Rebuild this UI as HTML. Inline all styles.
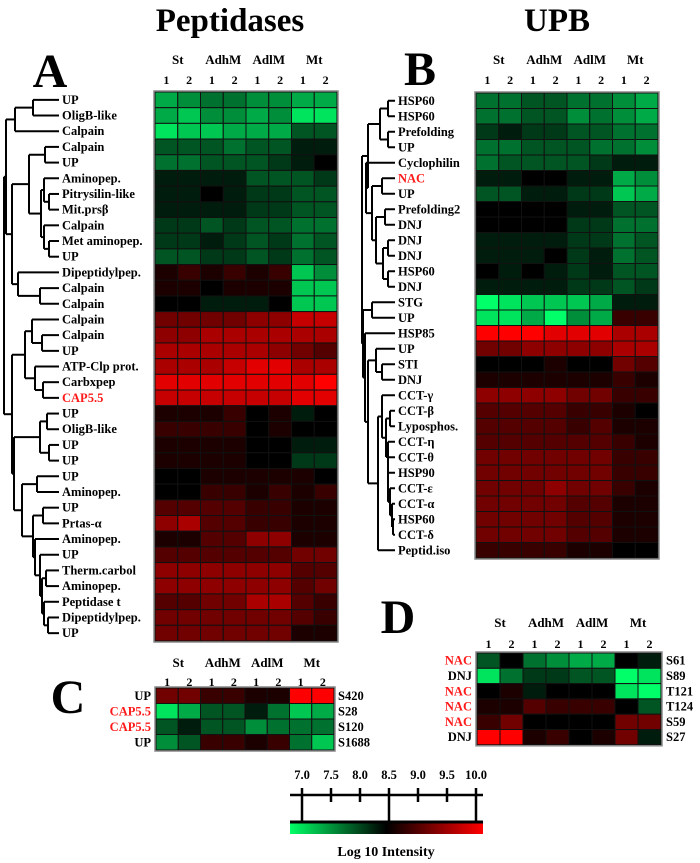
<!DOCTYPE html>
<html><head><meta charset="utf-8">
<style>
html,body{margin:0;padding:0;background:#fff;}
svg{display:block;font-family:"Liberation Serif",serif;font-weight:bold;}
</style></head>
<body>
<svg id="fig" width="700" height="863" viewBox="0 0 700 863" xmlns="http://www.w3.org/2000/svg">
<text x="230" y="31" font-size="33" text-anchor="middle">Peptidases</text>
<text x="557" y="31" font-size="33" text-anchor="middle">UPB</text>
<text x="50" y="87" font-size="48" text-anchor="middle">A</text>
<text x="420" y="85" font-size="48" text-anchor="middle">B</text>
<text x="68" y="713" font-size="48" text-anchor="middle">C</text>
<text x="398" y="633" font-size="48" text-anchor="middle">D</text>
<g id="layer"></g>
</svg>
<script>
const groups = ["St","AdhM","AdlM","Mt"];
const reps = ["1","2","1","2","1","2","1","2"];
const labelsA = ["UP","OligB-like","Calpain","Calpain","UP","Aminopep.","Pitrysilin-like","Mit.prsβ","Calpain","Met aminopep.","UP","Dipeptidylpep.","Calpain","Calpain","Calpain","Calpain","UP","ATP-Clp prot.","Carbxpep","CAP5.5","UP","OligB-like","UP","UP","UP","Aminopep.","UP","Prtas-α","Aminopep.","UP","Therm.carbol","Aminopep.","Peptidase t","Dipeptidylpep.","UP"];
const redA = [19];
const valuesA = [
[-6,-5,-4,-4,-5,-5,-6,-6],[-6,-7,-5,-5,-6,-5,-8,-8],[-8,-7,-7,-6,-6,-6,-3,-3],[-3,-3,-3,-4,-3,-3,-1,-1],[-4,-4,-3,-3,-3,-2,-1,0],
[-1,-1,-1,-1,-3,-3,-3,-2],[-1,-1,0,-1,-2,-2,-3,-3],[-1,-1,-1,-1,-2,-2,-3,-3],[-2,-2,-3,-2,-3,-3,-4,-4],[-2,-2,-1,-2,-3,-2,-4,-3],
[-3,-3,-2,-2,-3,-2,-4,-3],[1,2,1,2,1,2,-7,-5],[1,1,0,1,1,1,-7,-7],[0,0,-1,-1,-1,0,-7,-7],[4,4,4,4,5,5,7,7],
[5,5,6,6,6,6,6,6],[6,6,6,6,6,5,4,3],[6,6,6,7,8,8,6,6],[8,8,8,8,8,8,8,9],[7,7,7,7,7,7,8,8],
[1,1,1,2,0,1,-1,0],[2,2,2,2,0,1,0,0],[1,1,1,1,0,0,-1,-1],[1,1,1,1,0,0,-2,-2],[0,0,1,1,1,1,1,0],
[0,0,2,2,1,2,1,2],[3,3,3,3,2,2,1,1],[5,6,3,3,2,2,1,1],[1,1,3,3,5,5,1,1],[3,3,3,3,3,3,4,4],
[5,5,5,5,5,5,3,3],[5,5,5,5,5,5,3,4],[3,3,4,4,6,6,3,2],[4,4,4,4,4,4,3,2],[4,4,4,4,4,4,1,1]];
const labelsB = ["HSP60","HSP60","Prefolding","UP","Cyclophilin","NAC","UP","Prefolding2","DNJ","DNJ","DNJ","HSP60","DNJ","STG","UP","HSP85","UP","STI","DNJ","CCT-γ","CCT-β","Lyposphos.","CCT-η","CCT-θ","HSP90","CCT-ε","CCT-α","HSP60","CCT-δ","Peptid.iso"];
const redB = [5];
const valuesB = [
[-4,-4,-3,-3,-4,-4,-5,-6],[-4,-4,-3,-3,-5,-4,-5,-6],[-2,-1,-2,-2,-3,-3,-4,-4],[-4,-4,-3,-3,-3,-4,-4,-5],[-4,-3,-3,-3,-3,-2,-1,-1],
[-1,-1,0,0,-1,-1,-6,-5],[-3,-3,-1,-1,-2,-2,-7,-6],[0,0,0,0,-1,-1,-3,-3],[0,0,0,0,-2,-2,-4,-4],[-1,-1,-1,-1,-2,-2,-4,-3],
[-1,-1,-1,0,-2,-1,-4,-3],[0,-1,0,-1,-2,-1,-3,-3],[-1,-1,-1,-1,-2,-2,-3,-2],[-9,-8,-7,-7,-7,-6,-1,-1],[-8,-8,-6,-9,-5,-6,2,2],
[9,9,9,8,8,8,6,6],[4,4,5,5,5,5,6,6],[0,0,0,1,0,0,4,3],[1,1,1,1,1,1,2,1],[5,5,5,5,4,4,2,2],
[3,3,3,3,2,2,1,0],[3,3,3,3,2,3,1,1],[3,3,3,3,3,3,2,1],[4,4,4,4,4,4,2,2],[4,4,4,4,4,4,2,2],
[4,4,4,5,4,4,2,1],[4,4,4,4,3,3,1,1],[4,4,4,4,3,3,1,1],[4,4,4,4,3,3,1,1],[2,2,2,2,1,1,0,0]];
const labelsC = ["UP","CAP5.5","CAP5.5","UP"];
const sitesC = ["S420","S28","S120","S1688"];
const redC = [1,2];
const valuesC = [[4,4,2,2,1,1,9,9],[-8,-6,-3,-3,-1,-4,-7,-6],[-3,-1,-3,-3,-5,-4,-4,-4],[-5,-3,2,2,1,2,-4,-7]];
const labelsD = ["NAC","DNJ","NAC","NAC","NAC","DNJ"];
const sitesD = ["S61","S89","T121","T124","S59","S27"];
const redD = [0,2,3,4];
const valuesD = [[-3,0,-4,-5,-6,-6,0,-1],[-8,-4,-2,-2,-3,-3,-9,-8],[0,1,-1,0,0,0,-8,-9],[1,1,3,2,2,2,0,-3],[2,4,0,0,0,0,4,4],[9,9,1,2,0,1,4,-1]];
const scaleTicks = ["7.0","7.5","8.0","8.5","9.0","9.5","10.0"];
const scaleVals = [7.0,7.5,8.0,8.5,9.0,9.5,10.0];

const NS="http://www.w3.org/2000/svg";
const layer=document.getElementById('layer');
function mk(tag,attrs,parent){const e=document.createElementNS(NS,tag);for(const k in attrs)e.setAttribute(k,attrs[k]);(parent||layer).appendChild(e);return e;}
function color(v){const t=Math.max(-1,Math.min(1,v/9));
 if(t>=0)return `rgb(${Math.round(255*t)},0,0)`;
 const a=-t;return `rgb(0,${Math.round(255*a)},${Math.round(105*a)})`;}

function heat(name,vals,x0,x1,y0,rh){
 const cw=(x1-x0)/8;
 const g=mk('g',{});
 
 
 vals.forEach((row,i)=>row.forEach((v,j)=>{
  const r=mk('rect',{x:x0+j*cw,y:y0+i*rh,width:cw,height:rh,fill:color(v),stroke:'#111','stroke-width':1},g);
  
  
 }));
 const b=mk('rect',{x:x0-1,y:y0-1,width:x1-x0+2,height:vals.length*rh+2,fill:'none',stroke:'#888','stroke-width':1.5},g);
 
 
 return cw;
}
function header(name,x0,cw,yg,yn){
 groups.forEach((s,k)=>{const t=mk('text',{x:x0+(2*k+1)*cw,y:yg,'font-size':13,'text-anchor':'middle'});t.textContent=s;
  });
 reps.forEach((s,k)=>{const t=mk('text',{x:x0+(k+0.5)*cw,y:yn,'font-size':12,'text-anchor':'middle'});t.textContent=s;
  });
}
function rowLabels(name,labels,reds,x,y0,rh,anchor){
 labels.forEach((s,i)=>{const t=mk('text',{x:x,y:y0+(i+0.5)*rh+4,'font-size':12.5,'text-anchor':anchor,fill:reds.includes(i)?'#ff1a1a':'#000'});t.textContent=s;
  });
}
function tree(name,node,leafX,y0,rh){
 const g=mk('g',{fill:'none',stroke:'#000','stroke-width':2});
 
 
 function rec(n){
  if(typeof n==='number')return {x:leafX,y:y0+(n+0.5)*rh};
  const x=n[0];const ch=n.slice(1).map(rec);
  let ymin=1e9,ymax=-1e9;
  ch.forEach(c=>{mk('line',{x1:x,y1:c.y,x2:c.x,y2:c.y},g);ymin=Math.min(ymin,c.y);ymax=Math.max(ymax,c.y);});
  mk('line',{x1:x,y1:ymin,x2:x,y2:ymax},g);
  return {x:x,y:(ymin+ymax)/2};
 }
 rec(node);
}

// Panel A
const rhA=(641-92)/35;
const cwA=heat('heatmap-a',valuesA,155,337,92,rhA);
header('heatmap-a',155,cwA,64,84);
rowLabels('heatmap-a',labelsA,redA,62,92,rhA,'start');
tree('dendrogram-a',[4,
 [6,[15,[33,0,1],2],[12,[29,[45,3,4],[41,[44,5,[49,6,7]],[44,8,[49,9,10]]]],[18,11,[40,12,13]]]],
 [12,[25,[32,14,[42,15,16]],[35,17,[43,18,19]]],
  [14,[40,[47,20,21],[49,22,23]],[22,[37,24,25],[33,[43,26,27],[35,28,[40,29,[42,[46,30,31],[44,32,[48,33,34]]]]]]]]]],59,92,rhA);

// Panel B
const rhB=(558-93)/30;
const cwB=heat('heatmap-b',valuesB,476,658,93,rhB);
header('heatmap-b',476,cwB,64,84);
rowLabels('heatmap-b',labelsB,redB,398,93,rhB,'start');
tree('dendrogram-b',[362,
 [368,[380,[388,0,1],[388,2,3]],[366,4,[372,[382,5,6],[376,[385,7,8],[383,[388,9,10],[388,11,12]]]]]],
 [363,[372,13,14],[365,15,[368,[376,16,[382,17,18]],[378,[382,19,[386,[390,20,21],[388,22,[388,23,[388,24,[390,25,[392,26,[393,27,28]]]]]]]],29]]]]],395,93,rhB);

// Panel C
const rhC=(750-688)/4;
const cwC=heat('heatmap-c',valuesC,156,334,688,rhC);
header('heatmap-c',156,cwC,667,686);
rowLabels('heatmap-c',labelsC,redC,151,688,rhC,'end');
rowLabels('heatmap-c-site',sitesC,[],338,688,rhC,'start');

// Panel D
const rhD=15.3;
const cwD=heat('heatmap-d',valuesD,477,661,653,rhD);
header('heatmap-d',477,cwD,627,648);
rowLabels('heatmap-d',labelsD,redD,472,653,rhD,'end');
rowLabels('heatmap-d-site',sitesD,[],666,653,rhD,'start');

// Color scale
const sx=v=>302+(v-7)/3*(476-302);
const cb=mk('g',{});


const defs=mk('defs',{},cb);
const lg=mk('linearGradient',{id:'grad',x1:0,x2:1,y1:0,y2:0},defs);
mk('stop',{offset:'0','stop-color':'#00ff66'},lg);
mk('stop',{offset:'0.5','stop-color':'#000'},lg);
mk('stop',{offset:'1','stop-color':'#ff0000'},lg);
const gb=mk('rect',{x:290,y:823,width:193,height:11,fill:'url(#grad)'},cb);


mk('line',{x1:290,y1:795,x2:483,y2:795,stroke:'#000','stroke-width':2.5},cb);
mk('line',{x1:290,y1:822,x2:483,y2:822,stroke:'#000','stroke-width':3},cb);
scaleVals.forEach((v,i)=>{
 const x=sx(v);
 const big=(i===0||i===3||i===6);
 mk('line',{x1:x,y1:788,x2:x,y2:big?822:802,stroke:'#000','stroke-width':2.5},cb);
 const t=mk('text',{x:x,y:779,'font-size':12.5,'text-anchor':'middle'},cb);
 t.textContent=scaleTicks[i];
 
 
});
const ct=mk('text',{x:386,y:856,'font-size':14,'text-anchor':'middle'},cb);
ct.textContent='Log 10 Intensity';


</script>
</body></html>
